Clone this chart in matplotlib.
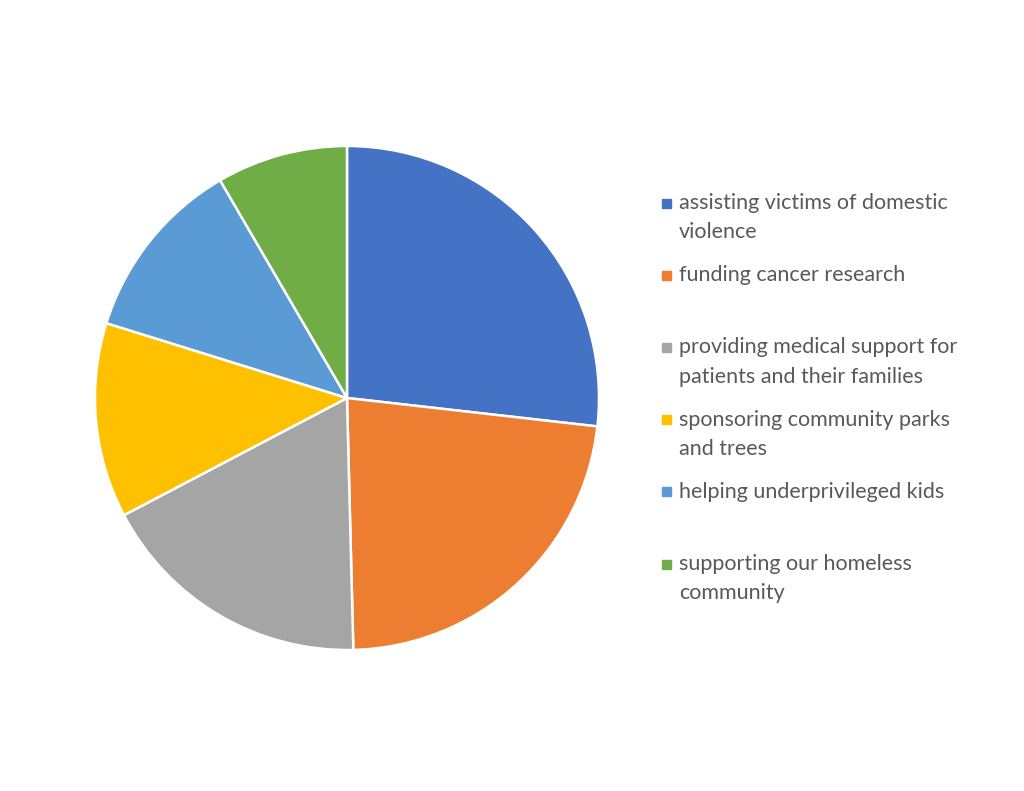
import matplotlib.pyplot as plt
from matplotlib.patches import Rectangle

labels = ["assisting victims of domestic\nviolence",
          "funding cancer research",
          "providing medical support for\npatients and their families",
          "sponsoring community parks\nand trees",
          "helping underprivileged kids",
          "supporting our homeless\ncommunity"]
values = [26.8, 22.8, 17.7, 12.5, 11.8, 8.4]
colors = ["#4472C4", "#ED7D31", "#A5A5A5", "#FFC000", "#5B9BD5", "#70AD47"]

W, H = 1024, 791
fig = plt.figure(figsize=(W / 100, H / 100), dpi=100)

# pie centred at (347, 398) px, radius 252 px
cx, cy, r = 347, 398, 252
ax = fig.add_axes([(cx - r) / W, (H - cy - r) / H, 2 * r / W, 2 * r / H])
ax.pie(values, colors=colors, startangle=90, counterclock=False,
       wedgeprops=dict(edgecolor="white", linewidth=1.8))
ax.set_xlim(-1, 1)
ax.set_ylim(-1, 1)
ax.set_axis_off()

# legend drawn by hand so entries are evenly spaced like the original
y0, step = 203, 72.2
for i, (lab, col) in enumerate(zip(labels, colors)):
    y = y0 + i * step
    fig.patches.append(Rectangle((662 / W, (H - y - 4.5) / H), 9 / W, 9 / H,
                                 transform=fig.transFigure, color=col))
    fig.text(679 / W, (H - y + 10) / H, lab, fontsize=15.5, family="Lato",
             color="#595959", va="top", ha="left", linespacing=1.58)

fig.savefig("out.png", dpi=100)
